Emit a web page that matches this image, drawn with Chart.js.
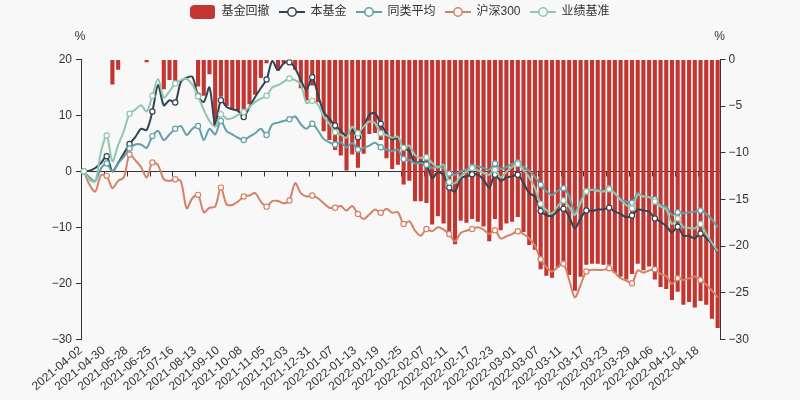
<!DOCTYPE html>
<html>
<head>
<meta charset="utf-8">
<script src="https://cdn.jsdelivr.net/npm/chart.js@4/dist/chart.umd.min.js"></script>
<style>
  html, body { margin: 0; padding: 0; background: #f8f8f8; overflow: hidden; }
  #wrap { width: 800px; height: 400px; }
</style>
</head>
<body>
<div id="wrap"><canvas id="c" width="800" height="400"></canvas></div>
<script>
// ---------- data ----------
const dates = [
  '2021-04-02','2021-04-09','2021-04-16','2021-04-23','2021-04-30','2021-05-07','2021-05-14','2021-05-21',
  '2021-05-28','2021-06-04','2021-06-11','2021-06-18','2021-06-25','2021-06-30','2021-07-02','2021-07-09',
  '2021-07-16','2021-07-23','2021-07-30','2021-08-06','2021-08-13','2021-08-20','2021-08-27','2021-09-03',
  '2021-09-10','2021-09-17','2021-09-24','2021-09-30','2021-10-08','2021-10-15','2021-10-22','2021-10-29',
  '2021-11-05','2021-11-12','2021-11-19','2021-11-26','2021-12-03','2021-12-10','2021-12-17','2021-12-24',
  '2021-12-31','2022-01-04','2022-01-05','2022-01-06','2022-01-07','2022-01-10','2022-01-11','2022-01-12',
  '2022-01-13','2022-01-14','2022-01-17','2022-01-18','2022-01-19','2022-01-20','2022-01-21','2022-01-24',
  '2022-01-25','2022-01-26','2022-01-27','2022-01-28','2022-02-07','2022-02-08','2022-02-09','2022-02-10',
  '2022-02-11','2022-02-14','2022-02-15','2022-02-16','2022-02-17','2022-02-18','2022-02-21','2022-02-22',
  '2022-02-23','2022-02-24','2022-02-25','2022-02-28','2022-03-01','2022-03-02','2022-03-03','2022-03-04',
  '2022-03-07','2022-03-08','2022-03-09','2022-03-10','2022-03-11','2022-03-14','2022-03-15','2022-03-16',
  '2022-03-17','2022-03-18','2022-03-21','2022-03-22','2022-03-23','2022-03-24','2022-03-25','2022-03-28',
  '2022-03-29','2022-03-30','2022-03-31','2022-04-01','2022-04-06','2022-04-07','2022-04-08','2022-04-11',
  '2022-04-12','2022-04-13','2022-04-14','2022-04-15','2022-04-18','2022-04-19','2022-04-20','2022-04-21'
];

// 基金回撤 (right axis, %)
const drawdown = [
  0, 0, 0, 0, 0, -2.7, -1.1, 0, 0, 0, 0, -0.3, 0, 0, -3.2, -2.2,
  -2.5, 0, 0, 0, -2.9, -3.9, -1.6, -7.2, -4.0, -5.0, -5.4, -5.5, -5.9, -4.8, -3.8, -2.0,
  -0.4, 0, -1.2, -0.4, -0.2, -1.1, -3.1, -4.4, -2.8, -4.6, -7.7, -8.65, -9.7, -10.3, -11.9, -10.2,
  -11.6, -10.1, -8.0, -7.9, -8.65, -10.6, -11.75, -11.3, -13.4, -13.0, -15.2, -15.2, -15.4, -17.7, -16.8, -17.6,
  -19.0, -19.8, -17.3, -17.5, -17.1, -17.4, -17.9, -19.5, -17.1, -18.3, -17.6, -17.4, -16.9, -18.5, -19.9, -20.4,
  -22.5, -23.2, -23.4, -22.3, -21.9, -23.1, -24.8, -23.3, -22.0, -21.9, -21.9, -22.0, -22.0, -22.9, -23.3, -23.6,
  -23.0, -21.9, -22.6, -22.2, -23.6, -24.4, -24.6, -25.8, -24.9, -26.3, -26.0, -26.6, -25.9, -26.3, -27.8, -28.8
];

// 本基金
const fund = [
  0, 0.1, 0.6, 1.5, 2.7, 0.0, 1.5, 3.2, 4.9, 6.1, 7.6, 7.4, 10.7, 15.4, 11.8, 12.7,
  12.3, 16.0, 16.7, 16.9, 13.5, 12.4, 15.0, 8.3, 12.7, 11.5, 11.1, 10.8, 9.7, 11.5, 13.3, 14.9,
  16.4, 19.7, 18.1, 19.3, 19.5, 18.4, 16.3, 14.6, 16.8, 13.7, 10.6, 9.4, 8.2, 7.3, 6.3, 7.4,
  6.1, 8.0, 10.1, 10.4, 8.5, 6.8, 5.7, 6.0, 4.2, 3.6, 1.5, 1.7, 1.3, -1.2, -0.1, -0.7,
  -2.9, -3.6, -1.2, -0.9, -0.5, -0.6, -1.5, -2.9, -0.6, -1.7, -1.1, -0.9, -0.6, -2.1, -3.9, -4.5,
  -7.1, -7.8, -8.0, -7.0, -6.7, -8.1, -10.2, -8.4, -7.0, -7.1, -6.8, -6.8, -6.5, -7.2, -7.6, -8.2,
  -7.9, -6.8, -7.0, -7.2, -8.4, -9.0, -9.8, -10.9, -9.9, -11.5, -11.5, -12.0, -11.1, -11.9, -13.0, -14.5
];

// 同类平均
const peerAvg = [
  0, -1.1, -1.7, 0.5, 1.4, 0.0, 1.4, 2.6, 4.1, 4.8, 4.8, 4.2, 6.3, 7.2, 5.6, 6.6,
  7.6, 8.1, 6.5, 7.6, 8.1, 5.6, 7.6, 6.6, 9.0, 7.2, 6.6, 6.0, 5.6, 6.2, 6.8, 7.6,
  6.5, 8.4, 8.7, 9.0, 9.3, 9.8, 8.4, 7.6, 8.5, 7.3, 5.8, 5.2, 4.8, 5.2, 4.3, 5.1,
  3.9, 4.2, 4.6, 5.1, 4.3, 3.9, 3.6, 3.9, 2.2, 2.0, 1.4, 1.5, 1.2, 0.6, 0.9, 0.5,
  -0.4, -0.6, 0.0, 0.3, 0.8, 0.9, 0.6, 0.3, 1.4, 0.4, 0.8, 1.3, 1.6, 0.8, 0.1, -1.0,
  -2.4, -3.6, -4.2, -3.5, -3.0, -4.5, -7.4, -5.4, -3.6, -3.3, -3.3, -3.6, -3.0, -4.0, -5.0, -5.4,
  -5.6, -3.9, -4.5, -4.6, -5.0, -6.0, -6.3, -7.8, -7.3, -7.5, -7.3, -7.2, -7.0, -7.6, -8.6, -10.0
];

// 沪深300
const hs300 = [
  0, -2.4, -3.6, -0.7, -0.8, -3.0, -1.7, -1.1, 3.0, 2.0, 0.8, -1.1, 1.6, 1.1, -1.4, -1.7,
  -1.4, -1.8, -6.6, -4.8, -4.2, -7.3, -6.5, -6.3, -2.9, -5.9, -6.0, -5.4, -4.5, -4.3, -3.9, -5.4,
  -6.3, -5.3, -5.3, -5.7, -5.2, -2.1, -3.9, -4.5, -4.3, -4.8, -5.7, -6.5, -6.5, -6.2, -7.0, -6.2,
  -7.6, -8.5, -7.7, -6.8, -7.4, -6.7, -7.4, -7.3, -9.4, -8.9, -10.6, -11.5, -10.3, -10.7, -10.0, -10.4,
  -11.2, -12.5, -11.0, -10.6, -10.3, -10.0, -10.4, -11.2, -10.5, -12.0, -11.6, -11.2, -10.7, -11.2, -12.0, -13.3,
  -15.7, -17.1, -17.9, -17.1, -16.5, -19.4, -22.5, -20.3, -17.9, -17.6, -17.6, -17.6, -17.3, -18.1, -19.1, -19.5,
  -20.0, -17.7, -18.1, -17.7, -17.5, -18.3, -18.7, -20.1, -19.1, -19.4, -19.1, -18.8, -19.4, -20.2, -21.3, -22.5
];

// 业绩基准
const benchmark = [
  0, -1.5, -1.8, 3.5, 6.4, 1.8, 4.7, 7.2, 10.3, 11.0, 11.8, 10.7, 13.5, 16.5, 13.2, 14.3,
  15.7, 16.3, 16.5, 15.5, 13.4, 11.0, 9.0, 8.0, 10.2, 9.4, 9.5, 10.1, 10.6, 11.5, 12.4, 13.0,
  13.5, 15.0, 15.4, 16.0, 16.6, 16.3, 15.5, 12.2, 12.6, 11.9, 9.8, 8.5, 7.0, 6.5, 6.0, 8.0,
  6.8, 8.0, 8.9, 8.6, 6.8, 6.5, 6.0, 6.2, 4.2, 4.6, 2.9, 2.4, 2.5, 1.5, 0.7, 1.2,
  -1.9, -2.1, -0.9, -0.1, 0.6, 0.2, -0.3, -0.6, 0.3, -1.1, -0.1, 0.8, 1.3, 0.2, -1.1, -3.0,
  -5.8, -6.9, -7.5, -6.2, -5.2, -6.4, -7.8, -5.6, -3.6, -3.3, -3.5, -3.6, -3.2, -3.9, -5.1, -6.0,
  -6.6, -4.2, -4.5, -4.6, -5.4, -6.3, -6.8, -9.4, -8.4, -10.0, -10.1, -10.2, -9.4, -11.2, -12.8, -14.3
];

const leftTicks = [-30, -20, -10, 0, 10, 20];
const rightTicks = [-30, -25, -20, -15, -10, -5, 0];
const seriesNames = ['基金回撤', '本基金', '同类平均', '沪深300', '业绩基准'];
const colors = ['#c23531', '#2f4554', '#61a0a8', '#d48265', '#91c7ae'];

// ---------- legend icons ----------
function barIcon(color) {
  const c = document.createElement('canvas');
  c.width = 25; c.height = 14;
  const g = c.getContext('2d');
  g.fillStyle = color;
  g.beginPath();
  g.roundRect(0, 0, 25, 14, 4);
  g.fill();
  return c;
}
function lineIcon(color) {
  const c = document.createElement('canvas');
  c.width = 26; c.height = 14;
  const g = c.getContext('2d');
  g.strokeStyle = color;
  g.lineWidth = 2;
  g.beginPath(); g.moveTo(0, 7); g.lineTo(26, 7); g.stroke();
  g.beginPath(); g.arc(13, 7, 4.2, 0, Math.PI * 2);
  g.fillStyle = '#f8f8f8'; g.fill();
  g.lineWidth = 1.5; g.stroke();
  return c;
}
const icons = [barIcon(colors[0]), lineIcon(colors[1]), lineIcon(colors[2]), lineIcon(colors[3]), lineIcon(colors[4])];

const fmtMinus = v => (v < 0 ? '\u2212' + Math.abs(v) : String(v));

// ---------- plugins ----------
const zeroAxis = {
  id: 'zeroAxis',
  beforeDatasetsDraw(chart) {
    const {ctx, chartArea: a, scales} = chart;
    const y = Math.round(scales.yL.getPixelForValue(0)) + 0.5;
    const xs = scales.x;
    const band = xs.getPixelForValue(1) - xs.getPixelForValue(0);
    ctx.save();
    ctx.strokeStyle = '#333';
    ctx.lineWidth = 1;
    ctx.beginPath();
    ctx.moveTo(a.left, y); ctx.lineTo(a.right, y);
    for (let k = 4; k < dates.length; k += 4) {
      const tx = Math.round(xs.getPixelForValue(k) - band / 2) + 0.5;
      ctx.moveTo(tx, y); ctx.lineTo(tx, y + 5);
    }
    ctx.stroke();
    ctx.restore();
  }
};
const unitLabels = {
  id: 'unitLabels',
  afterDraw(chart) {
    const {ctx, scales} = chart;
    ctx.save();
    ctx.fillStyle = '#333';
    ctx.font = '12px "Liberation Sans", "Noto Sans CJK SC", sans-serif';
    ctx.textAlign = 'center';
    ctx.textBaseline = 'middle';
    ctx.fillText('%', scales.yL.right - 1, 37);
    ctx.fillText('%', scales.yR.left - 1, 37);
    ctx.restore();
  }
};

Chart.defaults.font.family = '"Liberation Sans", "Noto Sans CJK SC", sans-serif';
Chart.defaults.font.size = 12;
Chart.defaults.color = '#333';

const markerRadius = c => (c.dataIndex % 4 === 0 ? 2.6 : 0);
function lineSet(label, data, color, order) {
  return {
    type: 'line', label, data, yAxisID: 'yL', order,
    borderColor: color, backgroundColor: color, borderWidth: 2,
    tension: 0.3, fill: false,
    pointRadius: markerRadius, pointHoverRadius: 0,
    pointBackgroundColor: '#ffffff', pointBorderColor: color, pointBorderWidth: 1.2
  };
}

new Chart(document.getElementById('c'), {
  data: {
    labels: dates,
    datasets: [
      { type: 'bar', label: seriesNames[0], data: drawdown, yAxisID: 'yR', order: 9,
        backgroundColor: colors[0], borderWidth: 0, barPercentage: 0.72, categoryPercentage: 1.0 },
      lineSet(seriesNames[1], fund, colors[1], 4),
      lineSet(seriesNames[2], peerAvg, colors[2], 3),
      lineSet(seriesNames[3], hs300, colors[3], 2),
      lineSet(seriesNames[4], benchmark, colors[4], 1)
    ]
  },
  options: {
    responsive: false,
    animation: false,
    devicePixelRatio: 1,
    layout: { padding: { top: -4, left: 0, right: 0, bottom: 0 } },
    plugins: {
      tooltip: { enabled: false },
      legend: {
        display: true, position: 'top', align: 'center',
        labels: {
          usePointStyle: true, pointStyleWidth: 25, padding: 10, color: '#333',
          font: { size: 12 },
          generateLabels: () => seriesNames.map((n, i) => ({
            text: n, pointStyle: icons[i], fillStyle: colors[i], strokeStyle: colors[i],
            lineWidth: 0, hidden: false, datasetIndex: i, fontColor: '#333'
          }))
        }
      },
      title: { display: true, text: '', weight: 500, font: { size: 12, lineHeight: 1.2 }, padding: { top: 0, bottom: 17 } }
    },
    scales: {
      x: {
        type: 'category', offset: true,
        grid: { display: false, drawTicks: false },
        border: { display: false },
        ticks: {
          autoSkip: false, maxRotation: 40, minRotation: 40, padding: 4, labelOffset: -3, color: '#333',
          callback: (v, i) => (i % 4 === 0 ? dates[i] : '')
        },
        afterFit: s => { s.height = 60.7; }
      },
      yL: {
        type: 'linear', position: 'left', min: -30, max: 20,
        afterBuildTicks: s => { s.ticks = leftTicks.map(v => ({ value: v })); },
        ticks: { callback: fmtMinus, padding: 4, color: '#333' },
        grid: { display: true, drawOnChartArea: false, drawTicks: true, tickLength: 5, color: '#333' },
        border: { display: true, color: '#333' },
        afterFit: s => { s.width = 81; }
      },
      yR: {
        type: 'linear', position: 'right', min: -30, max: 0,
        afterBuildTicks: s => { s.ticks = rightTicks.map(v => ({ value: v })); },
        ticks: { callback: fmtMinus, padding: 3, color: '#333' },
        grid: { display: true, drawOnChartArea: false, drawTicks: true, tickLength: 5, color: '#333' },
        border: { display: true, color: '#333' },
        afterFit: s => { s.width = 79.5; }
      }
    }
  },
  plugins: [zeroAxis, unitLabels]
});
</script>
</body>
</html>
